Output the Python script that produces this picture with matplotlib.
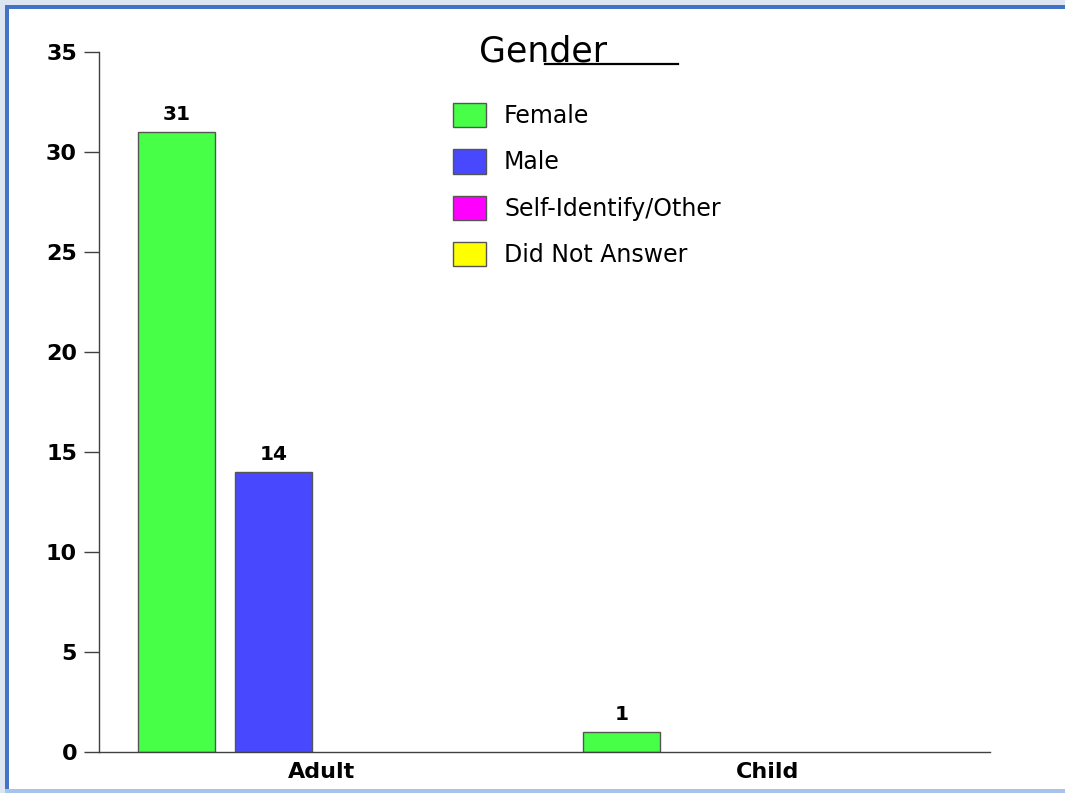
import matplotlib
matplotlib.use("Agg")
import matplotlib.pyplot as plt
from matplotlib.patches import Rectangle
import numpy as np

categories = ["Adult", "Child"]
series = ["Female", "Male", "Self-Identify/Other", "Did Not Answer"]
values = {
    "Female": [31, 1],
    "Male": [14, 0],
    "Self-Identify/Other": [0, 0],
    "Did Not Answer": [0, 0],
}
colors = {
    "Female": "#47FF47",
    "Male": "#4848FF",
    "Self-Identify/Other": "#FF00FF",
    "Did Not Answer": "#FFFF00",
}
yticks = [0, 5, 10, 15, 20, 25, 30, 35]

FONT = "DejaVu Sans"
W, H = 1065, 793
fig = plt.figure(figsize=(W / 100, H / 100), dpi=100)
fig.patch.set_facecolor("white")

# frame decorations (figure pixel coords)
def frect(x0, y0, x1, y1, color):
    fig.patches.append(Rectangle((x0 / W, 1 - y1 / H), (x1 - x0) / W, (y1 - y0) / H,
                                 transform=fig.transFigure, facecolor=color,
                                 edgecolor="none", zorder=0))

frect(0, 0, W, 5, "#DCE6F2")
frect(0, 0, 5, H, "#DCE6F2")
frect(5, 5, W, 9, "#4472C4")
frect(5, 5, 9, 790, "#4472C4")
frect(5, 789, W, H, "#A9C4EB")

ax = fig.add_axes([99 / W, 1 - 752 / H, (990 - 99) / W, (752 - 52) / H])
ax.set_facecolor("white")

x = np.arange(len(categories))
slot = 0.2175
bw = 0.173
offsets = (np.arange(len(series)) - (len(series) - 1) / 2) * slot
for s, off in zip(series, offsets):
    vals = values[s]
    for xi, v in zip(x, vals):
        if v > 0:
            ax.bar(xi + off, v, width=bw, color=colors[s], edgecolor="#555555",
                   linewidth=1.0, zorder=2)
            ax.text(xi + off, v + 0.4, f"{v}", ha="center", va="bottom",
                    fontsize=14.5, fontweight="bold", family=FONT)

ax.set_xlim(-0.5, 1.5)
ax.set_ylim(0, 35)
ax.set_yticks(yticks)
ax.set_yticklabels([str(t) for t in yticks], fontsize=16, fontweight="bold",
                   family=FONT)
ax.set_xticks(x)
ax.set_xticklabels(categories, fontsize=16, fontweight="bold", family=FONT)
ax.tick_params(axis="x", length=0, pad=7.5)
ax.tick_params(axis="y", length=10.8, width=1, color="#404040", pad=5)
for sp in ["top", "right"]:
    ax.spines[sp].set_visible(False)
for sp in ["left", "bottom"]:
    ax.spines[sp].set_color("#404040")
    ax.spines[sp].set_linewidth(1)

# title with partial underline
fig.text(479 / W, 1 - 51 / H, "Gender", fontsize=25, family=FONT,
         ha="left", va="center")
fig.add_artist(plt.Line2D([545 / W, 678 / W], [1 - 64 / H, 1 - 64 / H],
                          transform=fig.transFigure, color="black", linewidth=1.6))

handles = [Rectangle((0, 0), 1, 1, facecolor=colors[s], edgecolor="#555555", linewidth=1)
           for s in series]
leg = fig.legend(handles, series, loc="upper left",
                 bbox_to_anchor=(453 / W, 1 - 103 / H), frameon=False,
                 borderpad=0, borderaxespad=0,
                 handlelength=1.4, handleheight=1.2, handletextpad=0.76,
                 labelspacing=0.9,
                 prop={"family": FONT, "size": 17})

fig.savefig("out.png", dpi=100, facecolor=fig.get_facecolor())
